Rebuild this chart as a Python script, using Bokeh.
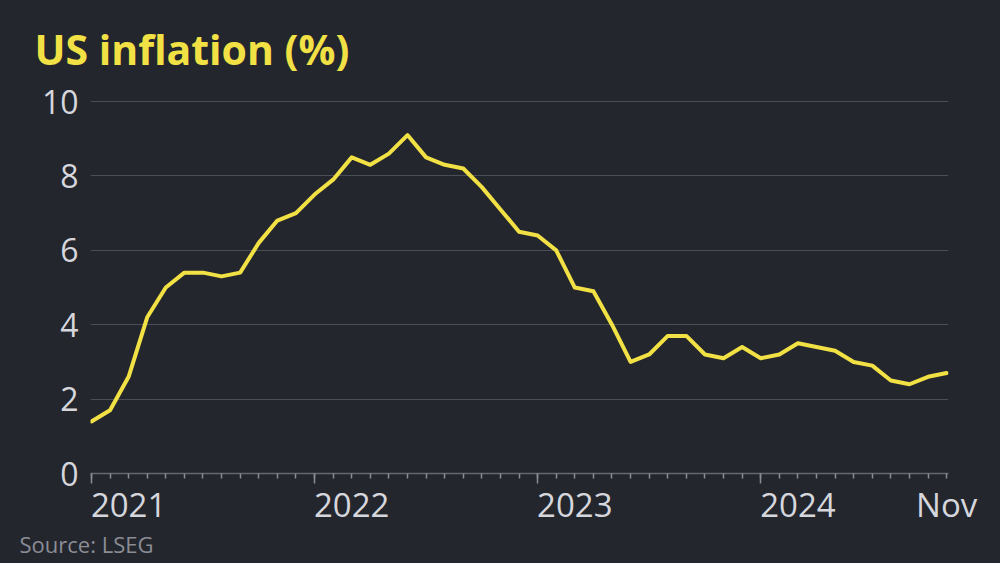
import pandas as pd
from bokeh.plotting import figure
from bokeh.models import Range1d, FixedTicker, LinearAxis, Title, CustomLabelingPolicy
from bokeh.embed import file_html
from bokeh.resources import INLINE

# ---- data ----
months = pd.date_range("2021-01-01", "2024-11-01", freq="MS")
cpi = [1.4, 1.7, 2.6, 4.2, 5.0, 5.4, 5.4, 5.3, 5.4, 6.2, 6.8, 7.0,
       7.5, 7.9, 8.5, 8.3, 8.6, 9.1, 8.5, 8.3, 8.2, 7.7, 7.1, 6.5,
       6.4, 6.0, 5.0, 4.9, 4.0, 3.0, 3.2, 3.7, 3.7, 3.2, 3.1, 3.4,
       3.1, 3.2, 3.5, 3.4, 3.3, 3.0, 2.9, 2.5, 2.4, 2.6, 2.7]
year_labels = ["2021", "2022", "2023", "2024"]
end_label = "Nov"
y_ticks = [0, 2, 4, 6, 8, 10]
title_text = "US inflation (%)"
source_text = "Source: LSEG"

# month index on the x axis
x = [(d.year - 2021) * 12 + d.month - 1 for d in months]
year_pos = [(int(y) - 2021) * 12 for y in year_labels]

BG = "#24262e"
YELLOW = "#f2e145"
GRID = "#4a4c56"
TICKC = "#d6d7dd"
FONT = "Open Sans"

p = figure(width=1000, height=563, output_backend="svg", toolbar_location=None,
           x_range=Range1d(-0.05, 46.1), y_range=Range1d(0, 10.19),
           min_border_left=90, min_border_right=52, min_border_top=94,
           min_border_bottom=90, title=title_text)
p.background_fill_color = BG
p.border_fill_color = BG
p.outline_line_color = None
p.styles = {"background-color": BG}

# title
p.title.align = "left"
p.title.offset = -56
p.title.standoff = 35
p.title.text_font = FONT
p.title.text_font_style = "bold"
p.title.text_font_size = "41px"
p.title.text_color = YELLOW

# y axis
yax = p.yaxis[0]
yax.ticker = FixedTicker(ticks=y_ticks)
yax.axis_line_color = None
yax.major_tick_line_color = None
yax.major_tick_out = 0
yax.minor_tick_line_color = None
yax.minor_tick_out = 0
yax.major_label_text_font = FONT
yax.major_label_text_font_size = "32px"
yax.major_label_text_color = TICKC
yax.major_label_standoff = 12

# x axis 1: baseline and tick marks only (labels suppressed)
xax = p.xaxis[0]
xax.ticker = FixedTicker(ticks=year_pos, minor_ticks=x)
xax.axis_line_color = "#666871"
xax.axis_line_width = 1.5
xax.major_tick_line_color = "#8a8c94"
xax.major_tick_line_width = 1.5
xax.major_tick_in = 0
xax.major_tick_out = 10
xax.minor_tick_line_color = "#8a8c94"
xax.minor_tick_line_width = 1.5
xax.minor_tick_in = 0
xax.minor_tick_out = 5
xax.major_label_standoff = 0
xax.major_label_policy = CustomLabelingPolicy(code="return new Set()")

# x axis 2: labels; years begin at their tick, end month is centred on its tick
half_label = 2  # months: half the width of a year label
lab_pos = [pos + half_label for pos in year_pos] + [x[-1]]
xlab = LinearAxis(ticker=FixedTicker(ticks=lab_pos),
                  major_label_overrides={pos: lab for pos, lab in zip(lab_pos, year_labels + [end_label])},
                  axis_line_color=None, major_tick_line_color=None,
                  minor_tick_line_color=None, major_tick_out=0, minor_tick_out=0,
                  major_label_text_font=FONT, major_label_text_font_size="33px",
                  major_label_text_color=TICKC, major_label_standoff=-13)
p.add_layout(xlab, "below")

# source
p.add_layout(Title(text=source_text, align="left", offset=-71, standoff=-6,
                   text_font=FONT, text_font_style="normal", text_font_size="22px",
                   text_color="#8b8d95"), "below")

p.xgrid.grid_line_color = None
p.ygrid.grid_line_color = GRID
p.ygrid.grid_line_width = 1.2

p.line(x, cpi, line_color=YELLOW, line_width=4, line_join="round", line_cap="round")

open("out.html", "w").write(file_html(p, INLINE))
